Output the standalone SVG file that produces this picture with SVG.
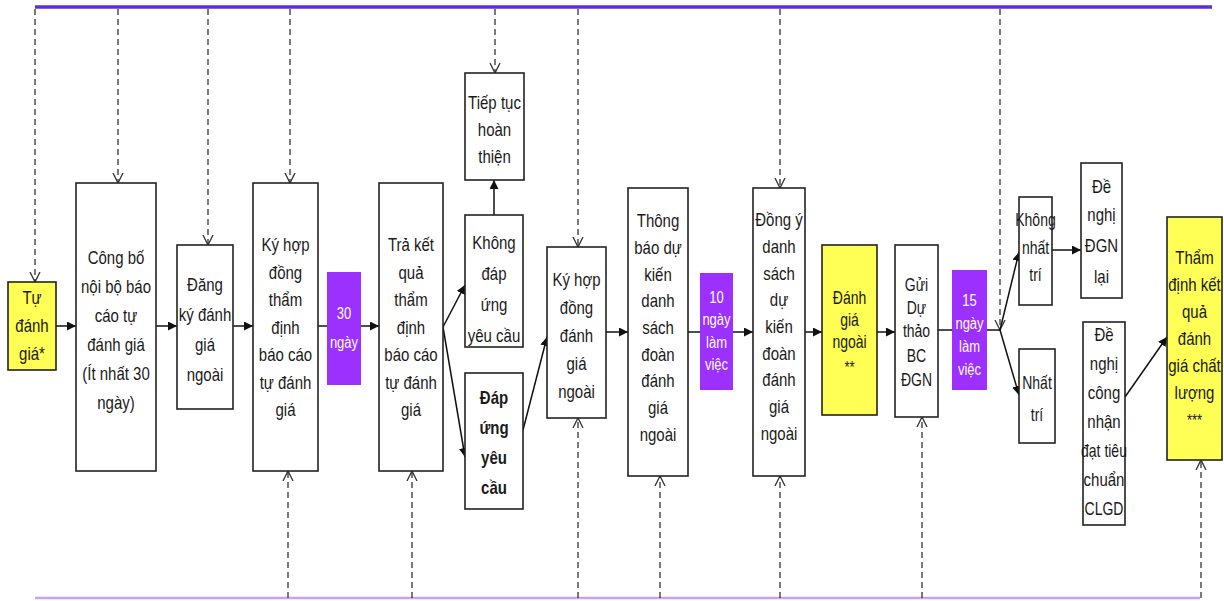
<svg xmlns="http://www.w3.org/2000/svg" width="1224" height="601" viewBox="0 0 1224 601">
<style>
.box{fill:#fff;stroke:#222;stroke-width:1.6}
.yel{fill:#ffff55;stroke:#222;stroke-width:1.6}
.pur{fill:#9b30ff;stroke:none}
text{font-family:"Liberation Sans",Arial,sans-serif;font-size:15px;fill:#1a1a1a;text-anchor:middle;transform-box:fill-box;transform-origin:center;transform:scaleY(1.25)}
.w{fill:#fff;font-size:13px}
.s13{font-size:13px}
.s14{font-size:14px}
.b{font-weight:bold}
.dash{stroke:#333;stroke-width:1.3;stroke-dasharray:6 4;fill:none}
.conn{stroke:#111;stroke-width:1.5;fill:none}
.arr{marker-end:url(#arrow)}
.v{marker-end:url(#vee)}
</style>
<defs>
<marker id="arrow" markerUnits="userSpaceOnUse" markerWidth="9" markerHeight="9" refX="9" refY="4.5" orient="auto"><path d="M0,0 L9,4.5 L0,9 z" fill="#111"/></marker>
<marker id="vee" markerUnits="userSpaceOnUse" markerWidth="12" markerHeight="12" refX="10" refY="6" orient="auto"><path d="M0,1 L10,6 L0,11" fill="none" stroke="#333" stroke-width="1.3"/></marker>
</defs>
<rect width="1224" height="601" fill="#fff"/>
<line x1="35" y1="7" x2="1212" y2="7" stroke="#5b2ed8" stroke-width="3.5"/>
<line x1="35" y1="598" x2="1200" y2="598" stroke="#c7a2f7" stroke-width="2.5"/>

<g id="connectors">
<g class="dash v">
<path d="M35,9 V282"/><path d="M118,9 V183"/><path d="M208,9 V245"/><path d="M290,9 V183"/>
<path d="M495,9 V73"/><path d="M578,9 V247"/><path d="M780,9 V188"/><path d="M1000,9 V330"/>
<path d="M288,598 V471"/><path d="M412,598 V471"/><path d="M578,598 V418"/><path d="M660,598 V476"/>
<path d="M780,598 V476"/><path d="M922,598 V417"/><path d="M1201,598 V460"/>
</g>
<g class="conn">
<path class="arr" d="M56,326 H76"/>
<path class="arr" d="M156,326 H177"/>
<path class="arr" d="M233,326 H253"/>
<path d="M318,326 H327"/>
<path class="arr" d="M361,326 H379"/>
<path class="arr" d="M443,327 L465,285"/>
<path class="arr" d="M443,327 L465,457"/>
<path class="arr" d="M494,215 V180"/>
<path class="arr" d="M523,430 L547,337"/>
<path class="arr" d="M606,332 H628"/>
<path d="M688,332 H700"/>
<path class="arr" d="M733,332 H753"/>
<path class="arr" d="M805,332 H822"/>
<path class="arr" d="M877,332 H895"/>
<path d="M938,330 H952"/>
<path d="M987,330 H1000"/>
<path class="arr" d="M1000,330 L1019,252"/>
<path class="arr" d="M1000,330 L1019,395"/>
<path class="arr" d="M1052,250 H1081"/>
<path class="arr" d="M1125,397 L1167,337"/>
</g>
</g>

<g id="n1"><rect class="yel" x="8" y="282" width="48" height="88"/>
<text x="32" y="303">Tự</text><text x="32" y="331">đánh</text><text x="32" y="359">giá*</text></g>

<g id="n2"><rect class="box" x="76" y="183" width="80" height="288"/>
<text x="116" y="263">Công  bố</text><text x="116" y="292">nội bộ báo</text><text x="116" y="321">cáo tự</text><text x="116" y="350">đánh giá</text><text x="116" y="379">(Ít nhất 30</text><text x="116" y="408">ngày)</text></g>

<g id="n3"><rect class="box" x="177" y="245" width="56" height="164"/>
<text x="205" y="290">Đăng</text><text x="205" y="320">ký đánh</text><text x="205" y="350">giá</text><text x="205" y="380">ngoài</text></g>

<g id="n4"><rect class="box" x="253" y="183" width="65" height="288"/>
<text x="285.5" y="250">Ký hợp</text><text x="285.5" y="277.5">đồng</text><text x="285.5" y="305">thẩm</text><text x="285.5" y="332.5">định</text><text x="285.5" y="360">báo  cáo</text><text x="285.5" y="387.5">tự đánh</text><text x="285.5" y="415">giá</text></g>

<g id="n5"><rect class="pur" x="327" y="272" width="34" height="113"/>
<text class="w" x="344" y="318">30</text><text class="w" x="344" y="347">ngày</text></g>

<g id="n6"><rect class="box" x="379" y="183" width="64" height="288"/>
<text x="411" y="250">Trả kết</text><text x="411" y="277.5">quả</text><text x="411" y="305">thẩm</text><text x="411" y="332.5">định</text><text x="411" y="360">báo  cáo</text><text x="411" y="387.5">tự đánh</text><text x="411" y="415">giá</text></g>

<g id="n7"><rect class="box" x="465" y="73" width="59" height="107"/>
<text x="494.5" y="108">Tiếp tục</text><text x="494.5" y="135">hoàn</text><text x="494.5" y="162">thiện</text></g>

<g id="n8"><rect class="box" x="465" y="215" width="58" height="132"/>
<text x="494" y="248">Không</text><text x="494" y="279">đáp</text><text x="494" y="310">ứng</text><text x="494" y="341">yêu cầu</text></g>

<g id="n9"><rect class="box" x="465" y="373" width="58" height="136"/>
<text class="b" x="494" y="403">Đáp</text><text class="b" x="494" y="433">ứng</text><text class="b" x="494" y="463">yêu</text><text class="b" x="494" y="493">cầu</text></g>

<g id="n10"><rect class="box" x="547" y="247" width="59" height="171"/>
<text x="576.5" y="285">Ký hợp</text><text x="576.5" y="313">đồng</text><text x="576.5" y="341">đánh</text><text x="576.5" y="369">giá</text><text x="576.5" y="397">ngoài</text></g>

<g id="n11"><rect class="box" x="628" y="188" width="60" height="288"/>
<text x="658" y="226">Thông</text><text x="658" y="253">báo dự</text><text x="658" y="280">kiến</text><text x="658" y="306">danh</text><text x="658" y="333">sách</text><text x="658" y="360">đoàn</text><text x="658" y="386">đánh</text><text x="658" y="413">giá</text><text x="658" y="440">ngoài</text></g>

<g id="n12"><rect class="pur" x="700" y="273" width="33" height="117"/>
<text class="w" x="716.5" y="302">10</text><text class="w" x="716.5" y="324">ngày</text><text class="w" x="716.5" y="347">làm</text><text class="w" x="716.5" y="369">việc</text></g>

<g id="n13"><rect class="box" x="753" y="188" width="52" height="288"/>
<text x="779" y="225">Đồng ý</text><text x="779" y="252">danh</text><text x="779" y="279">sách</text><text x="779" y="305">dự</text><text x="779" y="332">kiến</text><text x="779" y="359">đoàn</text><text x="779" y="385">đánh</text><text x="779" y="412">giá</text><text x="779" y="439">ngoài</text></g>

<g id="n14"><rect class="yel" x="822" y="245" width="55" height="170"/>
<text class="s14" x="849.5" y="303">Đánh</text><text class="s14" x="849.5" y="325">giá</text><text class="s14" x="849.5" y="347">ngoài</text><text class="s13" x="849.5" y="372">**</text></g>

<g id="n15"><rect class="box" x="895" y="245" width="43" height="172"/>
<text class="s14" x="916.5" y="290">Gửi</text><text class="s14" x="916.5" y="313">Dự</text><text class="s14" x="916.5" y="336">thảo</text><text class="s14" x="916.5" y="361">BC</text><text class="s14" x="916.5" y="385">ĐGN</text></g>

<g id="n16"><rect class="pur" x="952" y="270" width="35" height="120"/>
<text class="w" x="969.5" y="305">15</text><text class="w" x="969.5" y="328">ngày</text><text class="w" x="969.5" y="351">làm</text><text class="w" x="969.5" y="374">việc</text></g>

<g id="n17"><rect class="box" x="1019" y="197" width="33" height="108"/>
<text class="s14" x="1035.5" y="225">Không</text><text class="s14" x="1035.5" y="253">nhất</text><text class="s14" x="1035.5" y="280">trí</text></g>

<g id="n18"><rect class="box" x="1081" y="163" width="41" height="135"/>
<text x="1101.5" y="192">Đề</text><text x="1101.5" y="220">nghị</text><text x="1101.5" y="251">ĐGN</text><text x="1101.5" y="282">lại</text></g>

<g id="n19"><rect class="box" x="1019" y="349" width="36" height="94"/>
<text class="s14" x="1037" y="388">Nhất</text><text class="s14" x="1037" y="420">trí</text></g>

<g id="n20"><rect class="box" x="1083" y="322" width="42" height="203"/>
<text x="1104" y="340">Đề</text><text x="1104" y="369">nghị</text><text x="1104" y="398">công</text><text x="1104" y="427">nhận</text><text class="s14" x="1104" y="456">đạt tiêu</text><text x="1104" y="485">chuẩn</text><text class="s14" x="1104" y="514">CLGD</text></g>

<g id="n21"><rect class="yel" x="1167" y="217" width="55" height="243"/>
<text x="1194.5" y="263">Thẩm</text><text x="1194.5" y="290">định kết</text><text x="1194.5" y="317">quả</text><text x="1194.5" y="344">đánh</text><text x="1194.5" y="371">giá chất</text><text x="1194.5" y="398">lượng</text><text class="s13" x="1194.5" y="425">***</text></g>
</svg>
